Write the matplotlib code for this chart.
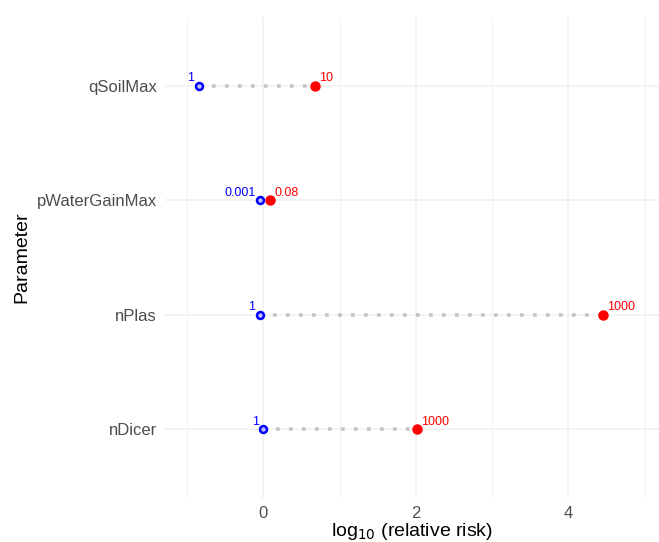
import matplotlib.pyplot as plt
from matplotlib.ticker import MultipleLocator

# data, bottom row first
params = ['nDicer', 'nPlas', 'pWaterGainMax', 'qSoilMax']
low_vals = [0.0, -0.05, -0.04, -0.85]
high_vals = [2.01, 4.46, 0.09, 0.68]
low_labels = ['1', '1', '0.001', '1']
high_labels = ['1000', '1000', '0.08', '10']

plt.rcParams['font.family'] = ['Liberation Sans', 'DejaVu Sans']

fig = plt.figure(figsize=(6.59, 5.42), dpi=100)
ax = fig.add_axes([0.2504, 0.0812, 0.7496, 0.8874])

ypos = list(range(1, len(params) + 1))

# dotted connectors
for y, lo, hi in zip(ypos, low_vals, high_vals):
    ax.plot([lo, hi], [y, y], color='#c4c4c4', lw=2.6,
            linestyle=(0, (1, 2.6)), dash_capstyle='butt', zorder=2)

ax.plot(low_vals, ypos, 'o', color='blue', mfc='#c0c0ff', mec='blue',
        mew=1.8, ms=5, linestyle='none', zorder=3)
ax.plot(high_vals, ypos, 'o', color='red', ms=6.5, linestyle='none', zorder=3)

for y, lo, hi, ll, hl in zip(ypos, low_vals, high_vals, low_labels, high_labels):
    ax.annotate(ll, (lo, y), xytext=(-3, 1), textcoords='offset points',
                ha='right', va='bottom', color='blue', fontsize=9)
    ax.annotate(hl, (hi, y), xytext=(3, 1), textcoords='offset points',
                ha='left', va='bottom', color='red', fontsize=9)

ax.set_xlim(-1.29, 5.19)
ax.set_ylim(0.4, 4.6)
ax.set_yticks(ypos)
ax.set_yticklabels(params)
ax.xaxis.set_major_locator(MultipleLocator(2))
ax.xaxis.set_minor_locator(MultipleLocator(1))

ax.grid(which='major', color='#f0f0f0', lw=1.1)
ax.grid(which='minor', axis='x', color='#f2f2f2', lw=0.8)
ax.set_axisbelow(True)
for s in ax.spines.values():
    s.set_visible(False)
ax.tick_params(which='both', length=0, labelsize=12, labelcolor='#4d4d4d')
ax.tick_params(axis='x', pad=6)
ax.tick_params(axis='y', pad=6)

ax.set_xlabel(r'log$_{10}$ (relative risk)', fontsize=14, labelpad=0)
ax.set_ylabel('Parameter', fontsize=14, labelpad=4)

fig.savefig('out.png', dpi=100)
